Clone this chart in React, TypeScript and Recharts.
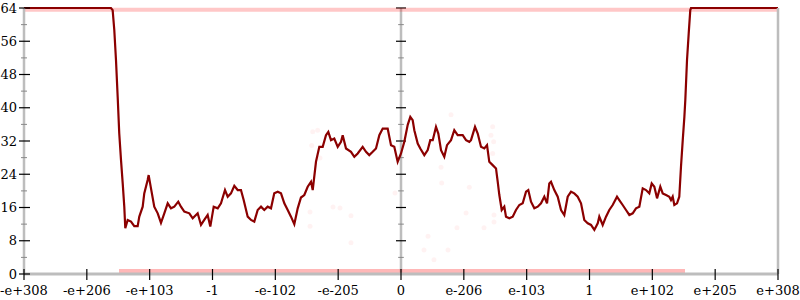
import React from 'react';
import { ComposedChart, Line, Scatter, XAxis, YAxis, ReferenceLine } from 'recharts';

// x positions are in tick-interval units: -6 = -e+308, 0 = 0, 6 = e+308
const xTicks = [-6, -5, -4, -3, -2, -1, 0, 1, 2, 3, 4, 5, 6];
const xLabels = ['-e+308', '-e+206', '-e+103', '-1', '-e-102', '-e-205', '0', 'e-206', 'e-103', '1', 'e+102', 'e+205', 'e+308'];
const yTicks = [0, 4, 8, 12, 16, 20, 24, 28, 32, 36, 40, 44, 48, 52, 56, 60, 64];

const lineX = [
  -6, -4.616, -4.589, -4.563, -4.536, -4.509, -4.484, -4.456, -4.429, -4.404, -4.388,
  -4.35, -4.297, -4.245, -4.191, -4.165, -4.111, -4.086, -4.032, -4.016, -3.979,
  -3.927, -3.872, -3.82, -3.767, -3.713, -3.661, -3.608, -3.545, -3.502, -3.449,
  -3.369, -3.315, -3.236, -3.183, -3.131, -3.077, -3.035, -2.981, -2.917, -2.865,
  -2.801, -2.758, -2.706, -2.653, -2.599, -2.547, -2.504, -2.44, -2.387, -2.335,
  -2.281, -2.228, -2.176, -2.122, -2.069, -2.017, -1.962, -1.91, -1.857, -1.803,
  -1.751, -1.698, -1.644, -1.592, -1.539, -1.485, -1.432, -1.405, -1.353, -1.3,
  -1.246, -1.194, -1.157, -1.114, -1.062, -1.007, -0.955, -0.928, -0.875, -0.796,
  -0.743, -0.689, -0.61, -0.557, -0.505, -0.45, -0.398, -0.345, -0.291, -0.212,
  -0.159, -0.107, -0.053, 0, 0.053, 0.107, 0.148, 0.186, 0.212, 0.266,
  0.307, 0.371, 0.425, 0.466, 0.505, 0.557, 0.594, 0.637, 0.689, 0.732,
  0.796, 0.848, 0.902, 0.982, 1.035, 1.087, 1.114, 1.178, 1.221, 1.273,
  1.326, 1.369, 1.405, 1.459, 1.512, 1.539, 1.565, 1.603, 1.644, 1.671,
  1.724, 1.778, 1.83, 1.883, 1.937, 1.99, 2.026, 2.069, 2.122, 2.176,
  2.228, 2.281, 2.324, 2.36, 2.387, 2.44, 2.494, 2.547, 2.599, 2.653,
  2.706, 2.758, 2.812, 2.865, 2.917, 2.972, 3.024, 3.077, 3.131, 3.156,
  3.21, 3.263, 3.315, 3.369, 3.438, 3.474, 3.528, 3.581, 3.634, 3.688,
  3.74, 3.793, 3.847, 3.899, 3.952, 3.99, 4.032, 4.075, 4.127, 4.165,
  4.218, 4.27, 4.297, 4.324, 4.35, 4.393, 4.429, 4.456, 4.484, 4.51,
  4.525, 4.552, 4.579, 4.604, 4.616, 6,
];
const lineY = [
  64, 64, 63.5, 58.7, 51.5, 42.6, 33.8, 27.4, 21.8, 16.2, 11.0,
  13, 12.6, 11.5, 11.5, 13.8, 16.2, 19.4, 22.6, 23.8, 20.6,
  16.2, 14.6, 12.3, 14.6, 17, 15.8, 16.2, 17.4, 16.2, 15,
  14.6, 13.4, 14.6, 11.8, 13, 14.2, 11.4, 16.2, 15.8, 17,
  20.2, 18.6, 19.4, 21.2, 20.2, 20.2, 17.8, 13.8, 13, 12.6,
  15.4, 16.2, 15.4, 16.2, 15.8, 19.4, 19.8, 19.4, 17, 15.4,
  13.8, 12, 15.8, 18.4, 19, 21, 22.2, 20.2, 27, 30.6,
  30.6, 33.4, 34.2, 32.2, 32.6, 30.6, 31.8, 33.4, 30.2, 29.4,
  28.2, 29, 30.6, 29.4, 28.6, 29.4, 30.2, 33.4, 35, 35,
  31, 30.6, 27, 29, 31.8, 35.9, 37.8, 37, 34.6, 31.4,
  30.2, 28.6, 29.8, 32.2, 32.2, 35.4, 33.8, 29.8, 28.2, 31,
  32.2, 34.6, 33.4, 33.4, 32.2, 31.8, 32.2, 35.4, 33.8, 30.6,
  30.2, 31, 27, 26.2, 25.4, 22.2, 19, 15.4, 16.2, 13.8,
  13.4, 13.8, 15.4, 16.6, 17, 19.8, 20.2, 17.4, 15.8, 16.2,
  17, 18.6, 17, 21.8, 22.2, 20.2, 18.6, 15.4, 14.2, 18.6,
  19.8, 19.4, 18.6, 17, 13, 12.2, 11.8, 10.6, 12.2, 13.8,
  11.8, 13.8, 15.4, 16.6, 18.6, 17.8, 16.6, 15.4, 14.2, 14.6,
  15.8, 16.2, 20.6, 20.2, 19.4, 21.8, 21, 18.2, 21, 19.4,
  19, 18.6, 17.8, 18.6, 16.6, 17, 18.6, 25.8, 32.2, 37.8,
  41.9, 51.5, 57.9, 63.5, 64, 64,
];

// faint sample bands at the top and bottom
const topBandX = [-6, 6];
const topBandY = [63.6, 63.6];
const bottomBandX = [-4.488, 4.52];
const bottomBandY = [0.6, 0.6];

// sparse faint samples in the middle
const dotX = [-1.448, -1.082, -0.971, -0.796, -1.448, -0.796, -1.405, -1.326, -1.421, -1.289, -0.095, 0.43, 0.366, 0.525, 0.748, 0.891, 1.035, 1.321, 1.48, 1.48, 0.796, 1.459, 1.432, 1.475, 1.459, 0.637, 0.648, 1.087];
const dotY = [14.9, 16.1, 15.9, 14.0, 11.5, 7.5, 34.2, 34.6, 30.9, 27.9, 19.5, 9.1, 5.8, 3.4, 5.8, 11.1, 14.7, 11.1, 14.2, 12.5, 38.3, 35.4, 33.4, 31.8, 29.0, 25.7, 21.9, 20.9];

const lineData = lineX.map((x, i) => ({ x, y: lineY[i] }));
const topBand = topBandX.map((x, i) => ({ x, y: topBandY[i] }));
const bottomBand = bottomBandX.map((x, i) => ({ x, y: bottomBandY[i] }));
const dots = dotX.map((x, i) => ({ x, y: dotY[i] }));

const FONT = "'DejaVu Serif', 'Liberation Serif', serif";
const AXIS_GREY = '#bdbdbd';

const LeftTick = (props: any) => {
  const { x, y, payload } = props;
  const major = payload.value % 8 === 0;
  if (!major) {
    return <line x1={x - 3} x2={x + 3} y1={y} y2={y} stroke="#888" strokeWidth={1} />;
  }
  return (
    <g>
      <line x1={x - 5} x2={x + 6} y1={y} y2={y} stroke="#000" strokeWidth={1.2} />
      <text x={x - 7} y={y} dy={4.5} textAnchor="end" style={{ fontFamily: FONT, fontSize: 13 }} fill="#000">
        {payload.value}
      </text>
    </g>
  );
};

const RightTick = (props: any) => {
  const { x, y, payload } = props;
  const major = payload.value % 8 === 0;
  if (!major) {
    return <line x1={x - 3} x2={x + 3} y1={y} y2={y} stroke="#888" strokeWidth={1} />;
  }
  return <line x1={x - 6} x2={x + 5} y1={y} y2={y} stroke="#000" strokeWidth={1.2} />;
};

const BottomTick = (props: any) => {
  const { x, y, index } = props;
  return (
    <g>
      <line x1={x} x2={x} y1={y - 5} y2={y + 6} stroke="#000" strokeWidth={1.2} />
      <text x={x} y={y + 21} textAnchor="middle" style={{ fontFamily: FONT, fontSize: 13 }} fill="#000">
        {xLabels[index] ?? ''}
      </text>
    </g>
  );
};

const Dot = (props: any) => <circle cx={props.cx} cy={props.cy} r={2.5} fill="#ff0000" fillOpacity={0.05} />;

export default function App() {
  return (
    <div style={{ position: 'absolute', left: 0, top: 0, width: 800, height: 300, background: '#fff' }}>
      <ComposedChart width={800} height={300} margin={{ top: 8, right: 0, bottom: 6, left: 0 }}>
        <XAxis
          type="number"
          dataKey="x"
          domain={[-6, 6]}
          ticks={xTicks}
          interval={0}
          height={20}
          tickSize={0}
          tickMargin={0}
          tickLine={false}
          axisLine={{ stroke: AXIS_GREY, strokeWidth: 3 }}
          tick={<BottomTick />}
          allowDataOverflow
        />
        <YAxis
          type="number"
          domain={[0, 64]}
          ticks={yTicks}
          interval={0}
          width={24}
          tickSize={0}
          tickMargin={0}
          tickLine={false}
          axisLine={{ stroke: AXIS_GREY, strokeWidth: 2.5 }}
          tick={<LeftTick />}
        />
        <YAxis
          yAxisId="right"
          orientation="right"
          type="number"
          domain={[0, 64]}
          ticks={yTicks}
          interval={0}
          width={22}
          tickSize={0}
          tickMargin={0}
          tickLine={false}
          axisLine={{ stroke: AXIS_GREY, strokeWidth: 2.5 }}
          tick={<RightTick />}
        />
        <ReferenceLine x={0} stroke={AXIS_GREY} strokeWidth={2.5} />
        {yTicks.map((t) => {
          const half = t % 8 === 0 ? 0.08 : 0.045;
          return (
            <ReferenceLine
              key={t}
              segment={[{ x: -half, y: t }, { x: half, y: t }]}
              stroke={t % 8 === 0 ? '#000' : '#888'}
              strokeWidth={t % 8 === 0 ? 1.2 : 1}
            />
          );
        })}
        <Line
          data={topBand}
          dataKey="y"
          stroke="#ff2020"
          strokeOpacity={0.25}
          strokeWidth={4}
          dot={false}
          isAnimationActive={false}
        />
        <Line
          data={bottomBand}
          dataKey="y"
          stroke="#ff2020"
          strokeOpacity={0.32}
          strokeWidth={5}
          dot={false}
          isAnimationActive={false}
        />
        <Scatter data={dots} dataKey="y" shape={<Dot />} isAnimationActive={false} />
        <Line
          data={lineData}
          dataKey="y"
          stroke="#8b0000"
          strokeWidth={2.2}
          dot={false}
          isAnimationActive={false}
        />
      </ComposedChart>
    </div>
  );
}
